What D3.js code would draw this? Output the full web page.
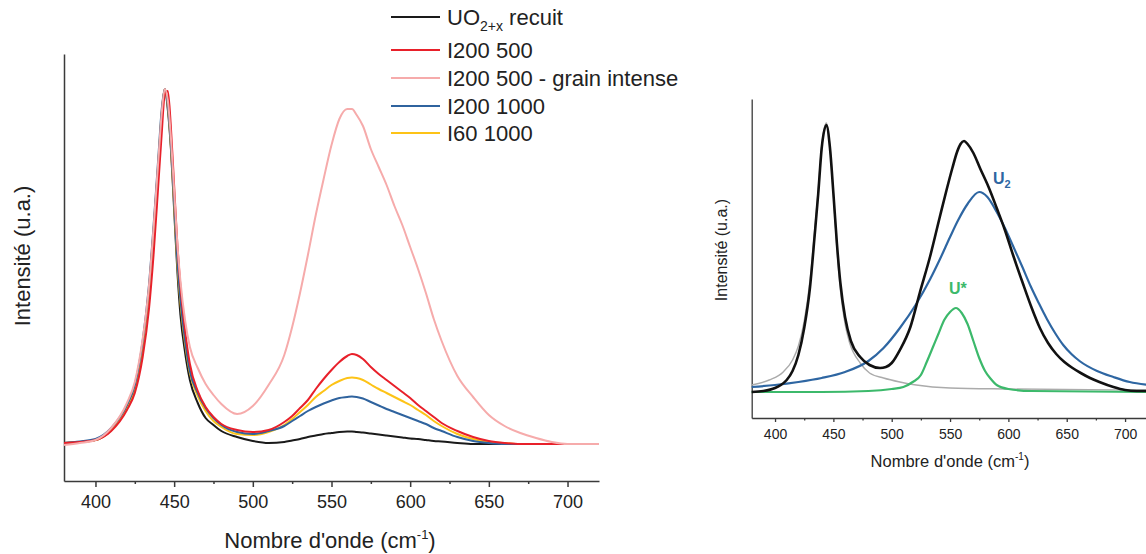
<!DOCTYPE html>
<html><head><meta charset="utf-8">
<script src="https://cdn.jsdelivr.net/npm/d3@7"></script>
<style>body{margin:0;background:#fff;}svg{display:block;font-family:"Liberation Sans",Arial,sans-serif;}</style>
</head><body>
<svg id="chart" width="1146" height="554"></svg>
<script>
// ---------- Left panel data (Raman spectra, arbitrary units) ----------
const wavenumbers = [380,390,400,410,420,425,430,434,437,440,442,444,446,448,450,452,454,457,460,465,470,475,480,490,500,510,520,525,530,535,540,545,550,555,560,563,566,570,575,580,585,590,595,600,605,610,615,620,630,640,650,660,670,680,690,700,710,720];
const uo2Recuit = [38,39,41,51,74,93,136,191,251,318,364,392,371,331,271,211,166,128,101,78,63,56,50,44,40,38,39,40.5,42,44,45.5,47,48,49,49.5,49.5,49,48.5,47.5,46.5,45.5,44.5,43.5,42.5,42,41,40,39.5,38,37,37,37,37,37,37,37,37,37];
const i200_500 = [38,39,41,50,71,88,124,172,228,298,345,386,390,352,295,238,195,150,117,90,74,64,57,51,49,51,59,65,73,81,92,102,111,119,125,127,126,122,114,107,101,95,89,83,76,70,64,58,50,44,40,38,37,37,37,37,37,37];
const i200_500_grain = [36,38,41,53,78,99,142,195,255,322,366,392,380,342,290,238,200,160,134,113,97,86,77,67,75,96,126,154,188,226,266,302,336,362,372,372,366,355,332,314,296,275,256,234,212,188,162,140,105,84,66,55,48,43,39,37,37,37];
const i200_1000 = [38,39.5,42,53,76,96,140,196,257,325,370,392,375,335,280,222,182,140,110,88,73,63,56,49,47,50,55,60,65,70,74,77.5,80.5,83,84,84.5,84,82.5,79,75.5,72,69,66,63,60,57,53,50,44,40,38,37,37,37,37,37,37,37];
const i60_1000 = [38,39,41,51,74,94,137,192,252,320,366,392,374,333,276,218,178,137,108,85,70,60,54,47,46,49,56,62,69,76,84,90,96,100,103,103.5,103,101,96.5,92,88,84,80,76,71,66,60,55,47,42,39,38,37,37,37,37,37,37];
const seriesNames = ["UO2+x recuit","I200 500","I200 500 - grain intense","I200 1000","I60 1000"];
const seriesColors = ["#1a1a1a","#e8202a","#f6abab","#2f639e","#fdc317"];

// ---------- Right panel data (fit decomposition) ----------
const fitBlackWn = [380,390,400,405,410,415,420,425,430,434,437,440,444,447,450,453,456,460,465,473,481,490,495,500,507,516,524,533,541,547,552,556,559,562,565,570,576,583,590,597,604,612,620,627,634,641,648,655,662,670,678,690,700,710,720];
const fitBlack = [26,27,30,33,38,47,63,90,131,183,224,270,293,271,225,175,135,101,77,61,53,50,51,55,68,91,125,162,200,228,250,266,274,277,274,265,249,231,210,188,163,136,110,90,75,64,56,50,45,40,36,31,28,27,27];
const fitGrayWn = [380,395,407,415,420,425,430,434,437,440,444,447,450,453,456,460,464,473,481,493,507,521,550,600,720];
const fitGray = [33,38,46,58,72,97,138,188,228,272,295,272,224,170,128,94,75,55,45,40,36,33,30,29,28];
const u2Wn = [380,400,420,440,460,480,493,507,521,533,541,550,557,565,575,582,590,597,604,612,619,626,633,640,647,654,661,676,690,704,720];
const u2 = [31,33,36,40,46,57,70,90,114,139,158,181,198,214,226,221,206,190,172,151,132,115,99,85,73,64,57,47,41,36,33];
const uStarWn = [380,440,480,500,510,518,525,530,535,540,545,550,555,560,565,570,575,580,585,590,600,620,720];
const uStar = [26,26,27,29,31,36,43,56,70,84,98,106,110,105,94,77,60,47,39,33,29,27,26];

const majorTicks = [400,450,500,550,600,650,700];
const minorTicks = [425,475,525,575,625,675];

const svg = d3.select("#chart");

// ================= LEFT PANEL =================
const xL = d3.scaleLinear().domain([380,720]).range([64,599]);
const yL = d3.scaleLinear().domain([0,427]).range([481,54]);
const gL = svg.append("g");

const axisColor = "#3a3a3a";
function styleAxis(g, w){
  g.selectAll("path.domain").attr("stroke",axisColor).attr("stroke-width",w);
  g.selectAll(".tick line").attr("stroke",axisColor).attr("stroke-width",w);
}
const xAxL = gL.append("g").attr("transform","translate(0,481)")
  .call(d3.axisBottom(xL).tickValues(majorTicks).tickSize(6).tickSizeOuter(0).tickPadding(8));
xAxL.selectAll("text").attr("font-size",18).attr("fill","#222").attr("font-family","Liberation Sans, Arial, sans-serif");
styleAxis(xAxL,1.5);
const xMinL = gL.append("g").attr("transform","translate(0,481)")
  .call(d3.axisBottom(xL).tickValues(minorTicks).tickSize(3).tickSizeOuter(0).tickFormat(""));
xMinL.select("path.domain").remove();
styleAxis(xMinL,1.5);
const yAxL = gL.append("g").attr("transform","translate(64,0)")
  .call(d3.axisLeft(yL).tickValues([]).tickSizeOuter(0));
styleAxis(yAxL,1.5);

const lineL = d3.line().x((d,i)=>xL(wavenumbers[i])).y(d=>yL(d)).curve(d3.curveMonotoneX);
const leftSeries = [uo2Recuit,i200_500,i200_500_grain,i200_1000,i60_1000];
const drawOrder = [0,4,3,1,2];
drawOrder.forEach(k=>{
  gL.append("path").datum(leftSeries[k]).attr("d",lineL)
    .attr("fill","none").attr("stroke",seriesColors[k]).attr("stroke-width",2).attr("stroke-linejoin","round");
});

gL.append("text").attr("x",330).attr("y",548).attr("text-anchor","middle").attr("font-size",22).attr("fill","#222")
  .call(t=>{t.append("tspan").text("Nombre d'onde (cm");
            t.append("tspan").attr("font-size",13).attr("dy",-9).text("-1");
            t.append("tspan").attr("dy",9).text(")");});
gL.append("text").attr("transform","translate(30,256) rotate(-90)").attr("text-anchor","middle")
  .attr("font-size",22).attr("fill","#222").text("Intensité (u.a.)");

const legendY = [17,50,78,106,133];
seriesNames.forEach((name,i)=>{
  const g = gL.append("g");
  g.append("line").attr("x1",391).attr("x2",440).attr("y1",legendY[i]).attr("y2",legendY[i])
    .attr("stroke",seriesColors[i]).attr("stroke-width",2);
  const t = g.append("text").attr("x",447).attr("y",legendY[i]+8).attr("font-size",22).attr("fill","#222");
  if(i===0){
    t.append("tspan").text("UO");
    t.append("tspan").attr("font-size",14).attr("dy",6).text("2+x");
    t.append("tspan").attr("dy",-6).text(" recuit");
  } else t.text(name);
});

// ================= RIGHT PANEL =================
const xR = d3.scaleLinear().domain([380,720]).range([751.7,1148.4]);
const yR = d3.scaleLinear().domain([0,319]).range([418,99]);
const gR = svg.append("g");
const xAxR = gR.append("g").attr("transform","translate(0,418)")
  .call(d3.axisBottom(xR).tickValues(majorTicks).tickSize(4).tickSizeOuter(0).tickPadding(7));
xAxR.selectAll("text").attr("font-size",14).attr("fill","#222").attr("font-family","Liberation Sans, Arial, sans-serif");
styleAxis(xAxR,1.3);
const xMinR = gR.append("g").attr("transform","translate(0,418)")
  .call(d3.axisBottom(xR).tickValues(minorTicks).tickSize(2.5).tickSizeOuter(0).tickFormat(""));
xMinR.select("path.domain").remove();
styleAxis(xMinR,1.3);
const yAxR = gR.append("g").attr("transform","translate(751.7,0)")
  .call(d3.axisLeft(yR).tickValues([]).tickSizeOuter(0));
styleAxis(yAxR,1.3);

function lineR(xs){ return d3.line().x((d,i)=>xR(xs[i])).y(d=>yR(d)).curve(d3.curveMonotoneX); }
gR.append("path").datum(fitGray).attr("d",lineR(fitGrayWn)).attr("fill","none").attr("stroke","#ababab").attr("stroke-width",1.4);
gR.append("path").datum(uStar).attr("d",lineR(uStarWn)).attr("fill","none").attr("stroke","#3cb96b").attr("stroke-width",2.2);
gR.append("path").datum(u2).attr("d",lineR(u2Wn)).attr("fill","none").attr("stroke","#2e66a2").attr("stroke-width",2.2);
gR.append("path").datum(fitBlack).attr("d",lineR(fitBlackWn)).attr("fill","none").attr("stroke","#111").attr("stroke-width",2.6).attr("stroke-linejoin","round");

gR.append("text").attr("x",993).attr("y",184).attr("font-size",16).attr("font-weight","bold").attr("fill","#2e66a2")
  .call(t=>{t.append("tspan").text("U"); t.append("tspan").attr("font-size",11).attr("dy",4).text("2");});
gR.append("text").attr("x",949).attr("y",294).attr("font-size",16).attr("font-weight","bold").attr("fill","#3cb96b").text("U*");

gR.append("text").attr("x",950).attr("y",467).attr("text-anchor","middle").attr("font-size",16.5).attr("fill","#222")
  .call(t=>{t.append("tspan").text("Nombre d'onde (cm");
            t.append("tspan").attr("font-size",10).attr("dy",-7).text("-1");
            t.append("tspan").attr("dy",7).text(")");});
gR.append("text").attr("transform","translate(727,250) rotate(-90)").attr("text-anchor","middle")
  .attr("font-size",16).attr("fill","#222").text("Intensité (u.a.)");
</script>
</body></html>
